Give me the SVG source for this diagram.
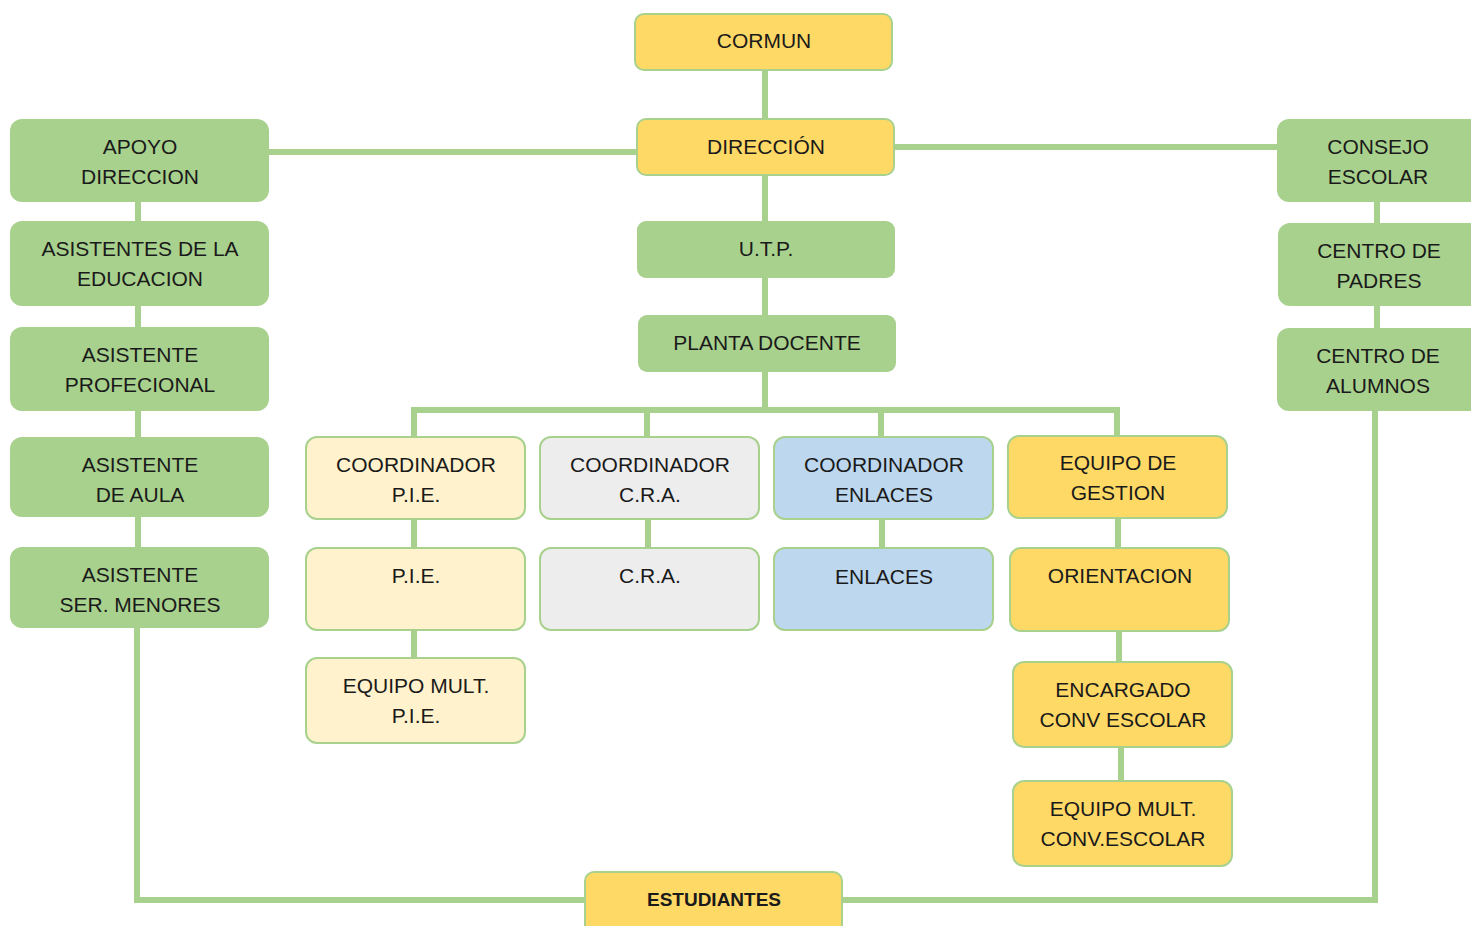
<svg xmlns="http://www.w3.org/2000/svg" width="1471" height="926" viewBox="0 0 1471 926">
<style>
.ln{stroke:#A9D18E;stroke-width:6;fill:none}
.g{fill:#A9D18E}
.y{fill:#FFD966;stroke:#A9D18E;stroke-width:2}
.ly{fill:#FFF2CC;stroke:#A9D18E;stroke-width:2}
.gr{fill:#EDEDED;stroke:#A9D18E;stroke-width:2}
.b{fill:#BDD7EE;stroke:#A9D18E;stroke-width:2}
text{font-family:"Liberation Sans",Arial,sans-serif;font-size:21px;fill:#1a1a1a;text-anchor:middle}
.bold{font-weight:bold;font-size:19px}
</style>
<rect width="1471" height="926" fill="#ffffff"/>
<g id="connectors">
<line class="ln" x1="765" y1="70" x2="765" y2="119"/>
<line class="ln" x1="765" y1="175" x2="765" y2="221"/>
<line class="ln" x1="765" y1="278" x2="765" y2="315"/>
<line class="ln" x1="269" y1="152" x2="637" y2="152"/>
<line class="ln" x1="894" y1="147" x2="1277" y2="147"/>
<line class="ln" x1="138" y1="202" x2="138" y2="221"/>
<line class="ln" x1="138" y1="306" x2="138" y2="327"/>
<line class="ln" x1="138" y1="411" x2="138" y2="437"/>
<line class="ln" x1="138" y1="517" x2="138" y2="547"/>
<polyline class="ln" points="137,628 137,900 585,900"/>
<line class="ln" x1="1377" y1="202" x2="1377" y2="223"/>
<line class="ln" x1="1377" y1="306" x2="1377" y2="328"/>
<polyline class="ln" points="1375,411 1375,900 843,900"/>
<line class="ln" x1="765" y1="372" x2="765" y2="410"/>
<polyline class="ln" points="414,437 414,410 1117,410 1117,436"/>
<line class="ln" x1="647" y1="410" x2="647" y2="437"/>
<line class="ln" x1="881" y1="410" x2="881" y2="437"/>
<line class="ln" x1="414" y1="519" x2="414" y2="548"/>
<line class="ln" x1="414" y1="630" x2="414" y2="658"/>
<line class="ln" x1="648" y1="519" x2="648" y2="548"/>
<line class="ln" x1="882" y1="519" x2="882" y2="548"/>
<line class="ln" x1="1118" y1="518" x2="1118" y2="548"/>
<line class="ln" x1="1119" y1="631" x2="1119" y2="662"/>
<line class="ln" x1="1121" y1="747" x2="1121" y2="781"/>
</g>
<g id="cormun"><rect class="y" x="635" y="14" width="257" height="56" rx="9"/><text x="764" y="48">CORMUN</text></g>
<g id="direccion"><rect class="y" x="637" y="119" width="257" height="56" rx="9"/><text x="766" y="154">DIRECCIÓN</text></g>
<g id="utp"><rect class="g" x="637" y="221" width="258" height="57" rx="9"/><text x="766" y="256">U.T.P.</text></g>
<g id="planta"><rect class="g" x="638" y="315" width="258" height="57" rx="9"/><text x="767" y="350">PLANTA DOCENTE</text></g>
<g id="apoyo"><rect class="g" x="10" y="119" width="259" height="83" rx="12"/><text x="140" y="154">APOYO</text><text x="140" y="184">DIRECCION</text></g>
<g id="asistentes"><rect class="g" x="10" y="221" width="259" height="85" rx="12"/><text x="140" y="256">ASISTENTES DE LA</text><text x="140" y="286">EDUCACION</text></g>
<g id="profecional"><rect class="g" x="10" y="327" width="259" height="84" rx="12"/><text x="140" y="362">ASISTENTE</text><text x="140" y="392">PROFECIONAL</text></g>
<g id="aula"><rect class="g" x="10" y="437" width="259" height="80" rx="12"/><text x="140" y="472">ASISTENTE</text><text x="140" y="502">DE AULA</text></g>
<g id="menores"><rect class="g" x="10" y="547" width="259" height="81" rx="12"/><text x="140" y="582">ASISTENTE</text><text x="140" y="612">SER. MENORES</text></g>
<g id="consejo"><rect class="g" x="1277" y="119" width="205" height="83" rx="12"/><text x="1378" y="154">CONSEJO</text><text x="1378" y="184">ESCOLAR</text></g>
<g id="padres"><rect class="g" x="1278" y="223" width="204" height="83" rx="12"/><text x="1379" y="258">CENTRO DE</text><text x="1379" y="288">PADRES</text></g>
<g id="alumnos"><rect class="g" x="1277" y="328" width="205" height="83" rx="12"/><text x="1378" y="363">CENTRO DE</text><text x="1378" y="393">ALUMNOS</text></g>
<g id="coord-pie"><rect class="ly" x="306" y="437" width="219" height="82" rx="11"/><text x="416" y="472">COORDINADOR</text><text x="416" y="502">P.I.E.</text></g>
<g id="coord-cra"><rect class="gr" x="540" y="437" width="219" height="82" rx="11"/><text x="650" y="472">COORDINADOR</text><text x="650" y="502">C.R.A.</text></g>
<g id="coord-enlaces"><rect class="b" x="774" y="437" width="219" height="82" rx="11"/><text x="884" y="472">COORDINADOR</text><text x="884" y="502">ENLACES</text></g>
<g id="gestion"><rect class="y" x="1008" y="436" width="219" height="82" rx="11"/><text x="1118" y="470">EQUIPO DE</text><text x="1118" y="500">GESTION</text></g>
<g id="pie"><rect class="ly" x="306" y="548" width="219" height="82" rx="11"/><text x="416" y="583">P.I.E.</text></g>
<g id="cra"><rect class="gr" x="540" y="548" width="219" height="82" rx="11"/><text x="650" y="583">C.R.A.</text></g>
<g id="enlaces"><rect class="b" x="774" y="548" width="219" height="82" rx="11"/><text x="884" y="584">ENLACES</text></g>
<g id="orientacion"><rect class="y" x="1010" y="548" width="219" height="83" rx="11"/><text x="1120" y="583">ORIENTACION</text></g>
<g id="equipo-pie"><rect class="ly" x="306" y="658" width="219" height="85" rx="11"/><text x="416" y="693">EQUIPO MULT.</text><text x="416" y="723">P.I.E.</text></g>
<g id="encargado"><rect class="y" x="1013" y="662" width="219" height="85" rx="11"/><text x="1123" y="697">ENCARGADO</text><text x="1123" y="727">CONV ESCOLAR</text></g>
<g id="equipo-conv"><rect class="y" x="1013" y="781" width="219" height="85" rx="11"/><text x="1123" y="816">EQUIPO MULT.</text><text x="1123" y="846">CONV.ESCOLAR</text></g>
<g id="estudiantes"><rect class="y" x="585" y="872" width="257" height="64" rx="9"/><text class="bold" x="714" y="906">ESTUDIANTES</text></g>
</svg>
